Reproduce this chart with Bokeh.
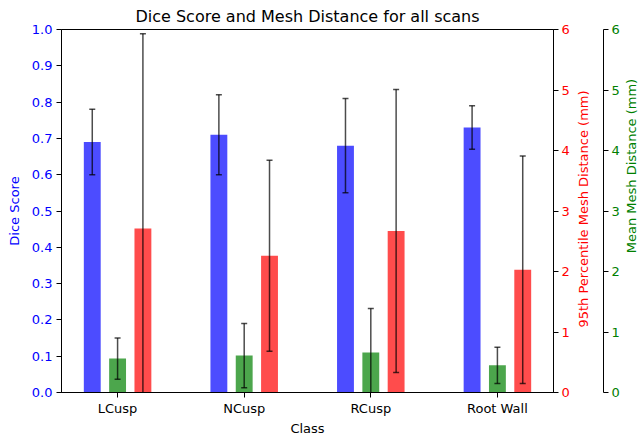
import math
import numpy as np
from bokeh.plotting import figure
from bokeh.layouts import row
from bokeh.models import Range1d, LinearAxis, FixedTicker, PrintfTickFormatter, Label
from bokeh.embed import file_html
from bokeh.resources import INLINE

# ---- data ----
classes = ["LCusp", "NCusp", "RCusp", "Root Wall"]
dice_mean = [0.69, 0.71, 0.68, 0.73]
dice_std = [0.09, 0.11, 0.13, 0.06]
p95_mean = [2.71, 2.26, 2.67, 2.03]
p95_std = [3.22, 1.58, 2.34, 1.88]
mesh_mean = [0.56, 0.61, 0.66, 0.45]
mesh_std = [0.34, 0.53, 0.73, 0.30]
dice_ticks = [0.0, 0.1, 0.2, 0.3, 0.4, 0.5, 0.6, 0.7, 0.8, 0.9, 1.0]
mm_ticks = [0, 1, 2, 3, 4, 5, 6]

FONT = "DejaVu Sans"
LBL = "13px"

# layout (pixels)
H = 438
FL, FR, FT, FB = 61, 555, 28, 395     # main frame edges in the page
FH = FB - FT
W_A, W_B, W_C = 572, 50, 17           # main plot | red label + green axis | green label

x = np.arange(len(classes), dtype=float)
bw = 0.4 / 3
off = 0.2


def clean(fig):
    fig.xgrid.visible = False
    fig.ygrid.visible = False
    fig.background_fill_color = "white"
    fig.border_fill_color = "white"


def style(ax, color):
    ax.major_tick_in = 0
    ax.major_tick_out = 5
    ax.minor_tick_line_color = None
    ax.major_label_text_font = FONT
    ax.major_label_text_font_size = LBL
    ax.major_label_text_color = color
    ax.axis_label_text_font = FONT
    ax.axis_label_text_font_size = LBL
    ax.axis_label_text_font_style = "normal"
    ax.axis_label_text_color = color
    ax.axis_line_color = "black"
    ax.major_tick_line_color = "black"


# ================= main plot =================
p = figure(width=W_A, height=H, output_backend="svg", toolbar_location=None,
           x_range=Range1d(-0.443, 3.443), y_range=Range1d(0, 1),
           title="Dice Score and Mesh Distance for all scans",
           min_border_left=FL, min_border_right=W_A - FR, min_border_top=FT,
           min_border_bottom=H - FB)
p.extra_y_ranges = {"p95": Range1d(0, 6), "mesh": Range1d(0, 6)}

p.title.text_font = FONT
p.title.text_font_size = "16px"
p.title.text_font_style = "normal"
p.title.text_color = "black"
p.title.align = "center"
p.title.standoff = 8
p.title.offset = 0

clean(p)
p.outline_line_color = "black"
p.outline_line_alpha = 1.0

# bars
p.vbar(x=x - off, top=dice_mean, width=bw, fill_color="blue", fill_alpha=0.7, line_color=None)
p.vbar(x=x, top=mesh_mean, width=bw, fill_color="green", fill_alpha=0.7, line_color=None,
       y_range_name="mesh")
p.vbar(x=x + off, top=p95_mean, width=bw, fill_color="red", fill_alpha=0.7, line_color=None,
       y_range_name="p95")


def errbars(xs, m, s, rng):
    m = np.asarray(m); s = np.asarray(s)
    lo = m - s; hi = m + s
    kw = {} if rng is None else {"y_range_name": rng}
    p.segment(x0=xs, y0=lo, x1=xs, y1=hi, line_color="black", line_alpha=0.7,
              line_width=1.5, **kw)
    for yy in (lo, hi):
        p.scatter(x=xs, y=yy, marker="dash", size=6, line_color="black",
                  line_alpha=0.7, line_width=1.5, **kw)


errbars(x - off, dice_mean, dice_std, None)
errbars(x, mesh_mean, mesh_std, "mesh")
errbars(x + off, p95_mean, p95_std, "p95")

# left axis
ly = p.yaxis[0]
ly.ticker = FixedTicker(ticks=dice_ticks)
ly.formatter = PrintfTickFormatter(format="%.1f")
ly.axis_label = "Dice Score"
style(ly, "blue")
ly.major_label_standoff = 4
ly.axis_label_standoff = 7

# x axis
xa = p.xaxis[0]
xa.ticker = FixedTicker(ticks=[int(i) for i in range(len(classes))])
xa.major_label_overrides = {int(i): c for i, c in enumerate(classes)}
xa.axis_label = "Class"
style(xa, "black")
xa.major_label_standoff = 3
xa.axis_label_standoff = 2

# red right axis (ticks + numbers)
ra = LinearAxis(y_range_name="p95", ticker=FixedTicker(ticks=mm_ticks))
style(ra, "red")
ra.major_label_standoff = 3
p.add_layout(ra, "right")

# ================= red label + green axis =================
b = figure(width=W_B, height=H, output_backend="svg", toolbar_location=None,
           x_range=Range1d(0, 1), y_range=Range1d(0, 6), title=None,
           x_axis_location=None, y_axis_location="right",
           min_border_left=0, min_border_right=17, min_border_top=FT,
           min_border_bottom=H - FB)
clean(b)
b.outline_line_color = None
ga = b.yaxis[0]
ga.ticker = FixedTicker(ticks=mm_ticks)
style(ga, "green")
ga.major_label_standoff = 3
b.add_layout(Label(x=11, y=FH / 2, x_units="screen", y_units="screen",
                   text="95th Percentile Mesh Distance (mm)", angle=math.pi / 2,
                   text_align="center", text_baseline="middle", text_color="red",
                   text_font=FONT, text_font_size=LBL))

# ================= green label =================
c = figure(width=W_C, height=H, output_backend="svg", toolbar_location=None,
           x_range=Range1d(0, 1), y_range=Range1d(0, 1), title=None,
           x_axis_location=None, y_axis_location=None,
           min_border_left=0, min_border_right=0, min_border_top=0,
           min_border_bottom=0)
clean(c)
c.outline_line_color = None
c.add_layout(Label(x=9, y=H - (FT + FB) / 2, x_units="screen", y_units="screen",
                   text="Mean Mesh Distance (mm)", angle=math.pi / 2,
                   text_align="center", text_baseline="middle", text_color="green",
                   text_font=FONT, text_font_size=LBL))

layout = row(p, b, c, spacing=0)
open("out.html", "w").write(file_html(layout, INLINE))
